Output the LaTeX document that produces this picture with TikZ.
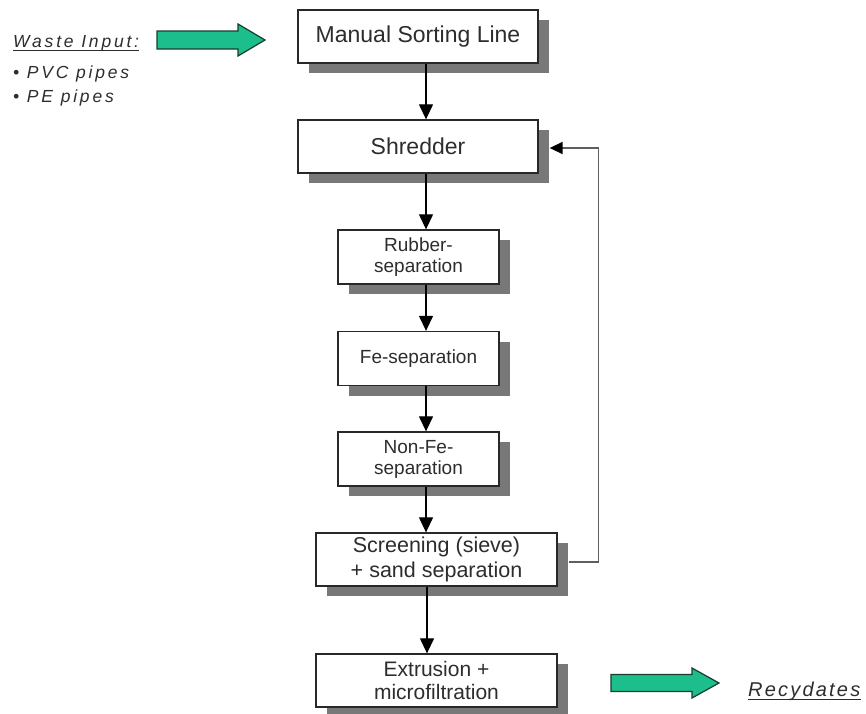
\documentclass[tikz,border=0pt]{standalone}
\usepackage{fontspec}
\setmainfont{Liberation Sans}
\newfontfamily\spacedA[LetterSpace=16]{Liberation Sans}
\newfontfamily\spacedB[LetterSpace=11]{Liberation Sans}
\usetikzlibrary{arrows.meta,shadows}
\definecolor{boxline}{RGB}{40,40,40}
\definecolor{shadowgray}{RGB}{120,120,120}
\definecolor{txt}{RGB}{45,45,45}
\definecolor{flowgreen}{RGB}{28,190,140}
\definecolor{flowedge}{RGB}{25,60,45}
\definecolor{loopgray}{RGB}{95,95,95}
\newcommand\fsz[2]{\fontsize{#1}{#2}\selectfont}

\begin{document}
\begin{tikzpicture}[x=1pt,y=-1pt,
  stepbox/.style={draw=boxline, line width=1.3pt, fill=white, text=txt,
    align=center, inner sep=0pt,
    general shadow={fill=shadowgray, shadow xshift=11pt, shadow yshift=-10pt}},
  widebox/.style={stepbox, minimum width=240pt, minimum height=53pt},
  smallbox/.style={stepbox, minimum width=161pt, minimum height=54pt},
  flow/.style={draw=black, line width=1.2pt, -{Triangle[width=14pt,length=15pt]}},
  backloop/.style={draw=loopgray, line width=1.6pt,
    -{Triangle[width=12pt,length=13pt,color=black]}},
  fatarrow/.style={fill=flowgreen, draw=flowedge, line width=1.2pt, line join=miter},
  lbl/.style={inner sep=0pt, text=txt},
  uline/.style={draw=txt, line width=0.9pt}
]
\useasboundingbox (0,0) rectangle (866,713);

% process steps
\node[widebox, font=\fsz{23}{27}] (msl) at (418,36.5) {Manual Sorting Line};
\node[widebox, font=\fsz{23}{27}] (shred) at (418,146.5) {Shredder};
\node[smallbox, font=\fsz{19}{21}] (rubber) at (418.5,257) {Rubber-\\separation};
\node[smallbox, font=\fsz{19}{21}] (fe) at (418.5,358.5) {Fe-separation};
\node[smallbox, font=\fsz{19}{21}] (nonfe) at (418.5,459) {Non-Fe-\\separation};
\node[stepbox, minimum width=241pt, minimum height=53pt, font=\fsz{21.5}{25}]
  (screen) at (436.5,559.5) {Screening (sieve)\\+ sand separation};
\node[stepbox, minimum width=241pt, minimum height=53pt, font=\fsz{21}{23}]
  (extr) at (436.5,680.5) {Extrusion +\\microfiltration};

% main flow
\draw[flow] ([xshift=8pt]msl.south) -- ([xshift=8pt]msl.south |- shred.north);
\draw[flow] ([xshift=8pt]shred.south) -- ([xshift=8pt]shred.south |- rubber.north);
\draw[flow] ([xshift=7.5pt]rubber.south) -- ([xshift=7.5pt]rubber.south |- fe.north);
\draw[flow] ([xshift=7.5pt]fe.south) -- ([xshift=7.5pt]fe.south |- nonfe.north);
\draw[flow] ([xshift=7.5pt]nonfe.south) -- ([xshift=7.5pt]nonfe.south |- screen.north);
\draw[flow] ([xshift=-9.5pt]screen.south) -- ([xshift=-9.5pt]screen.south |- extr.north);

% oversize material back to the shredder
\draw[backloop] ([shift={(11pt,-2.5pt)}]screen.east) -- ++(30,0)
  |- ([shift={(11pt,-1.5pt)}]shred.east);

% input and output
\draw[fatarrow] (157,31) -- (238,31) -- (238,24) -- (265,40) -- (238,56)
  -- (238,49) -- (157,49) -- cycle;
\draw[fatarrow] (611,674.5) -- (692,674.5) -- (692,668) -- (719,683) -- (692,698)
  -- (692,691.5) -- (611,691.5) -- cycle;

\node[lbl, anchor=base west, font=\spacedA\itshape\fsz{17.5}{20}] (wi) at (13,47) {Waste Input:};
\draw[uline] ([yshift=-3pt]wi.base west) -- ([yshift=-3pt]wi.base east);
\node[lbl, anchor=base west, font=\spacedA\itshape\fsz{17.5}{20}] (pvc) at (13,78) {• PVC pipes};
\node[lbl, anchor=base west, font=\spacedA\itshape\fsz{17.5}{20}] (pe) at (13,102) {• PE pipes};

\node[lbl, anchor=base west, font=\spacedB\itshape\fsz{20}{24}] (rec) at (748,696) {Recydates};
\draw[uline] ([yshift=-3.5pt]rec.base west) -- ([yshift=-3.5pt]rec.base east);
\end{tikzpicture}
\end{document}
